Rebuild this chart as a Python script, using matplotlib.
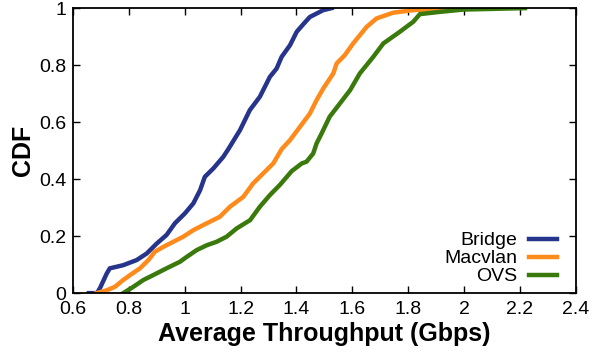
import matplotlib
matplotlib.use('Agg')
import matplotlib.pyplot as plt

plt.rcParams['font.family'] = ['Liberation Sans', 'DejaVu Sans']

# CDF curves (throughput in Gbps, cumulative fraction)
bridge_x = [0.657, 0.686, 0.697, 0.721, 0.732, 0.780, 0.828, 0.864, 0.900, 0.935,
            0.965, 1.001, 1.031, 1.055, 1.072, 1.102, 1.138, 1.156, 1.198, 1.233,
            1.269, 1.305, 1.329, 1.347, 1.377, 1.401, 1.424, 1.448, 1.460, 1.496, 1.526]
bridge_y = [0.0, 0.0, 0.018, 0.069, 0.087, 0.098, 0.116, 0.139, 0.174, 0.204,
            0.245, 0.280, 0.315, 0.361, 0.408, 0.437, 0.478, 0.505, 0.572, 0.642,
            0.689, 0.759, 0.788, 0.829, 0.870, 0.917, 0.943, 0.969, 0.975, 0.993, 1.0]

macvlan_x = [0.685, 0.721, 0.750, 0.780, 0.804, 0.840, 0.870, 0.893, 0.923, 0.959,
             0.995, 1.031, 1.079, 1.126, 1.162, 1.210, 1.245, 1.281, 1.317, 1.347,
             1.377, 1.413, 1.448, 1.472, 1.496, 1.532, 1.544, 1.573, 1.603, 1.651,
             1.687, 1.746, 1.818, 1.937, 2.027]
macvlan_y = [0.0, 0.010, 0.022, 0.046, 0.063, 0.087, 0.116, 0.145, 0.162, 0.180,
             0.198, 0.221, 0.245, 0.268, 0.303, 0.338, 0.385, 0.420, 0.455, 0.505,
             0.537, 0.584, 0.630, 0.677, 0.718, 0.771, 0.806, 0.835, 0.876, 0.934,
             0.964, 0.984, 0.993, 0.998, 1.0]

ovs_x = [0.780, 0.816, 0.852, 0.887, 0.935, 0.983, 1.007, 1.043, 1.079, 1.114,
         1.150, 1.186, 1.234, 1.269, 1.305, 1.341, 1.383, 1.419, 1.436, 1.460,
         1.472, 1.490, 1.519, 1.556, 1.592, 1.627, 1.675, 1.711, 1.770, 1.818,
         1.842, 1.914, 1.997, 2.218]
ovs_y = [0.0, 0.022, 0.046, 0.063, 0.087, 0.110, 0.127, 0.151, 0.168, 0.180,
         0.198, 0.227, 0.256, 0.303, 0.344, 0.380, 0.428, 0.455, 0.461, 0.490,
         0.525, 0.560, 0.619, 0.666, 0.712, 0.771, 0.829, 0.876, 0.917, 0.952,
         0.979, 0.987, 0.995, 1.0]

series = [('Bridge', bridge_x, bridge_y, '#27348b'),
          ('Macvlan', macvlan_x, macvlan_y, '#ff8a1c'),
          ('OVS', ovs_x, ovs_y, '#3a7a0c')]

fig = plt.figure(figsize=(6.08, 3.54), dpi=100)
ax = fig.add_axes([0.120, 0.172, 0.827, 0.805])

for name, xs, ys, c in series:
    ax.plot(xs, ys, color=c, linewidth=3.2, label=name)

ax.set_xlim(0.6, 2.4)
ax.set_ylim(0, 1)
ax.set_xticks([0.6, 0.8, 1.0, 1.2, 1.4, 1.6, 1.8, 2.0, 2.2, 2.4])
ax.set_xticklabels(['0.6', '0.8', '1', '1.2', '1.4', '1.6', '1.8', '2', '2.2', '2.4'])
ax.set_yticks([0, 0.2, 0.4, 0.6, 0.8, 1.0])
ax.set_yticklabels(['0', '0.2', '0.4', '0.6', '0.8', '1'])
ax.tick_params(direction='in', top=True, right=True, length=5, width=1,
               labelsize=14)
ax.tick_params(axis='x', pad=5.5)
ax.tick_params(axis='y', pad=5)
for s in ax.spines.values():
    s.set_linewidth(1.3)

ax.set_xlabel('Average Throughput (Gbps)', fontsize=18, fontweight='bold', labelpad=3)
ax.set_ylabel('CDF', fontsize=18, fontweight='bold', labelpad=3)

ax.legend(loc='lower right', frameon=False, markerfirst=False, fontsize=14,
          handlelength=1.45, handletextpad=0.6, labelspacing=0.02,
          borderaxespad=0.0, bbox_to_anchor=(0.978, 0.0))

fig.savefig('out.png', dpi=100)
